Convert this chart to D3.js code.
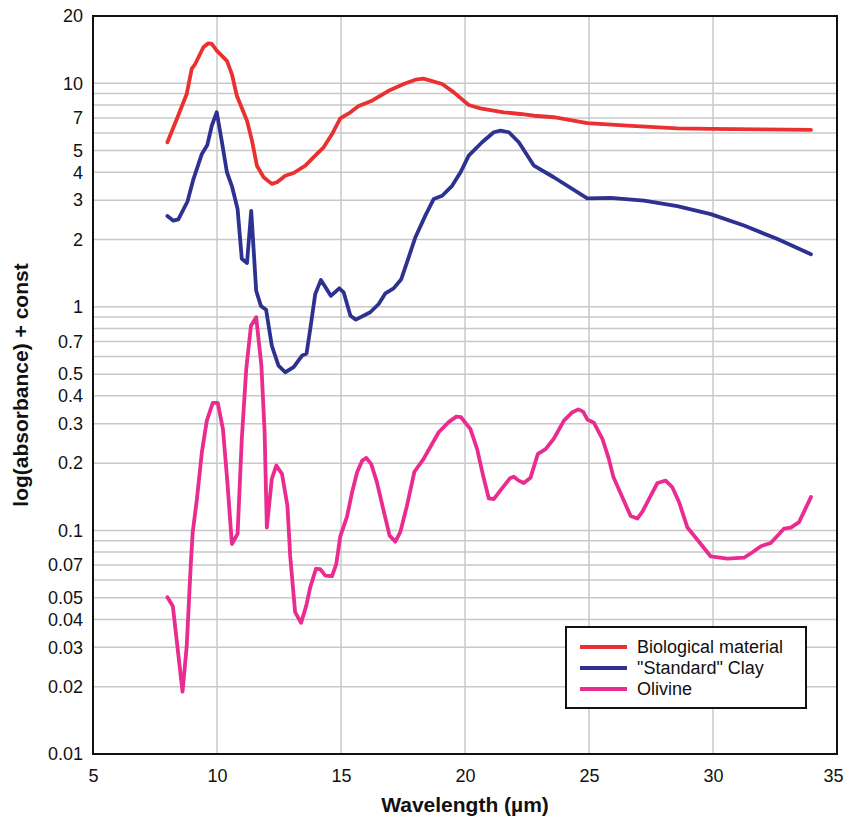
<!DOCTYPE html>
<html>
<head>
<meta charset="utf-8">
<script src="https://cdn.jsdelivr.net/npm/d3@7"></script>
<style>
	body { margin: 0; background: #fff; }
	text { font-family: "Liberation Sans", Arial, sans-serif; fill: #111; }
</style>
</head>
<body>
<div id="chart"></div>
<script>

// Wavelength (um) and log(absorbance) + const
var bioWave = [8.0, 8.38, 8.78, 8.98, 9.12, 9.45, 9.65, 9.79, 9.99, 10.40, 10.60, 10.80, 11.21, 11.41, 11.61, 11.88, 12.21, 12.42, 12.75, 13.09, 13.56, 13.96, 14.30, 14.64, 14.97, 15.38, 15.71, 16.25, 16.92, 17.53, 18.0, 18.33, 19.08, 19.55, 20.15, 20.62, 21.56, 22.23, 22.78, 23.58, 24.93, 26.55, 28.56, 29.91, 31.93, 33.95];
var bioValues = [5.45, 6.92, 8.96, 11.6, 12.2, 14.5, 15.1, 15.0, 14.0, 12.6, 11.0, 8.8, 6.8, 5.54, 4.28, 3.80, 3.55, 3.61, 3.86, 3.97, 4.28, 4.75, 5.17, 5.93, 6.97, 7.42, 7.92, 8.36, 9.26, 9.93, 10.38, 10.5, 9.93, 9.11, 8.0, 7.73, 7.42, 7.29, 7.16, 7.05, 6.64, 6.46, 6.29, 6.25, 6.22, 6.19];

var clayWave = [8.0, 8.24, 8.44, 8.81, 9.05, 9.39, 9.61, 9.79, 9.99, 10.20, 10.40, 10.60, 10.83, 11.00, 11.21, 11.38, 11.58, 11.77, 11.98, 12.21, 12.48, 12.75, 13.09, 13.43, 13.61, 13.76, 13.96, 14.19, 14.59, 14.93, 15.11, 15.38, 15.60, 16.18, 16.52, 16.79, 17.12, 17.43, 17.66, 18.0, 18.40, 18.74, 19.08, 19.48, 19.82, 20.15, 20.69, 21.16, 21.43, 21.77, 22.17, 22.78, 23.58, 24.93, 25.87, 27.22, 28.56, 29.91, 31.25, 32.60, 33.95];
var clayValues = [2.55, 2.43, 2.46, 2.96, 3.73, 4.83, 5.30, 6.46, 7.42, 5.45, 4.0, 3.47, 2.74, 1.64, 1.57, 2.69, 1.18, 1.01, 0.97, 0.67, 0.546, 0.51, 0.537, 0.605, 0.619, 0.796, 1.14, 1.32, 1.12, 1.21, 1.16, 0.913, 0.877, 0.946, 1.03, 1.15, 1.21, 1.33, 1.58, 2.05, 2.56, 3.04, 3.14, 3.48, 4.0, 4.75, 5.45, 6.04, 6.14, 6.04, 5.45, 4.28, 3.80, 3.06, 3.07, 2.99, 2.82, 2.60, 2.31, 2.01, 1.72];

var olivineWave = [8.0, 8.22, 8.61, 8.78, 8.94, 9.02, 9.19, 9.39, 9.59, 9.83, 10.03, 10.24, 10.42, 10.60, 10.83, 11.00, 11.18, 11.37, 11.58, 11.79, 11.92, 12.01, 12.21, 12.39, 12.62, 12.84, 12.95, 13.15, 13.39, 13.60, 13.76, 13.99, 14.16, 14.37, 14.64, 14.81, 14.97, 15.24, 15.44, 15.65, 15.85, 16.02, 16.22, 16.45, 16.70, 16.96, 17.19, 17.39, 17.66, 17.96, 18.33, 18.94, 19.34, 19.65, 19.84, 20.22, 20.49, 20.73, 20.96, 21.16, 21.43, 21.81, 21.97, 22.17, 22.37, 22.64, 22.94, 23.25, 23.58, 23.99, 24.33, 24.57, 24.76, 24.94, 25.20, 25.54, 25.80, 25.98, 26.34, 26.68, 26.95, 27.15, 27.49, 27.76, 28.09, 28.36, 28.63, 28.97, 29.37, 29.91, 30.58, 31.25, 31.59, 31.93, 32.33, 32.87, 33.14, 33.47, 33.95];
var olivineValues = [0.0503, 0.0458, 0.019, 0.0305, 0.0696, 0.0982, 0.138, 0.224, 0.310, 0.372, 0.372, 0.284, 0.164, 0.087, 0.0965, 0.257, 0.528, 0.824, 0.899, 0.546, 0.275, 0.103, 0.170, 0.195, 0.179, 0.129, 0.0771, 0.0431, 0.0386, 0.0461, 0.0557, 0.0673, 0.0671, 0.0628, 0.0624, 0.0708, 0.094, 0.115, 0.147, 0.182, 0.205, 0.211, 0.198, 0.164, 0.125, 0.0948, 0.0891, 0.0982, 0.129, 0.183, 0.209, 0.275, 0.305, 0.323, 0.321, 0.284, 0.231, 0.176, 0.139, 0.138, 0.151, 0.171, 0.174, 0.167, 0.163, 0.172, 0.220, 0.231, 0.257, 0.310, 0.338, 0.348, 0.340, 0.313, 0.303, 0.257, 0.209, 0.174, 0.141, 0.116, 0.113, 0.121, 0.143, 0.163, 0.167, 0.156, 0.134, 0.103, 0.0909, 0.0765, 0.0748, 0.0755, 0.0799, 0.085, 0.0879, 0.102, 0.103, 0.109, 0.141];

var seriesNames = ["Biological material", "\"Standard\" Clay", "Olivine"];
var seriesColors = ["#ea3030", "#2d3290", "#ea2b8f"];

var xTicks = [5, 10, 15, 20, 25, 30, 35];
var yTickLabels = [0.01, 0.02, 0.03, 0.04, 0.05, 0.07, 0.1, 0.2, 0.3, 0.4, 0.5, 0.7, 1, 2, 3, 4, 5, 7, 10, 20];

var width = 845,
	height = 820;

var margin = { top: 16, left: 93, bottom: 66, right: 8 };

var plotWidth = width - margin.left - margin.right,
	plotHeight = height - margin.top - margin.bottom;

// Pair up wavelengths with values
function pairUp(waves, values) {
	return waves.map(function(w, i) { return { w: w, v: values[i] }; });
}

var series = [
	pairUp(bioWave, bioValues),
	pairUp(clayWave, clayValues),
	pairUp(olivineWave, olivineValues)
];

var svg = d3.select("#chart").append("svg")
	.attr("width", width)
	.attr("height", height);

var g = svg.append("g")
	.attr("transform", "translate(" + margin.left + "," + margin.top + ")");

// Scales
var xScale = d3.scaleLinear()
	.domain([5, 35])
	.range([0, plotWidth]);

var yScale = d3.scaleLog()
	.domain([0.01, 20])
	.range([plotHeight, 0]);

// Grid lines: every 1..9 step of each decade
var gridValues = yScale.ticks().filter(function(d) { return d < 20; });

g.append("g")
	.attr("class", "grid y")
	.selectAll("line")
	.data(gridValues)
	.enter().append("line")
	.attr("x1", 0)
	.attr("x2", plotWidth)
	.attr("y1", function(d) { return yScale(d); })
	.attr("y2", function(d) { return yScale(d); })
	.style("stroke", "#c8c8c8")
	.style("stroke-width", 1.5);

g.append("g")
	.attr("class", "grid x")
	.selectAll("line")
	.data(xTicks.slice(1, -1))
	.enter().append("line")
	.attr("x1", function(d) { return xScale(d); })
	.attr("x2", function(d) { return xScale(d); })
	.attr("y1", 0)
	.attr("y2", plotHeight)
	.style("stroke", "#c8c8c8")
	.style("stroke-width", 1.5);

// Axes, labels only
var xAxis = d3.axisBottom(xScale)
	.tickValues(xTicks)
	.tickSize(0)
	.tickPadding(15);

var yAxis = d3.axisLeft(yScale)
	.tickValues(yTickLabels)
	.tickFormat(function(d) { return String(d); })
	.tickSize(0)
	.tickPadding(10);

g.append("g")
	.attr("class", "axis x")
	.attr("transform", "translate(0," + plotHeight + ")")
	.call(xAxis)
	.call(function(a) { a.select(".domain").remove(); })
	.selectAll("text")
	.style("font-size", "18px")
	.style("fill", "#111")
	// last label sits against the page edge
	.attr("dx", function(d) { return d === 35 ? "-4" : null; });

g.append("g")
	.attr("class", "axis y")
	.call(yAxis)
	.call(function(a) { a.select(".domain").remove(); })
	.selectAll("text")
	.style("font-size", "18px")
	.style("fill", "#111");

// Draw the lines
var line = d3.line()
	.x(function(d) { return xScale(d.w); })
	.y(function(d) { return yScale(d.v); });

g.selectAll(".series")
	.data(series)
	.enter().append("path")
	.attr("class", "series")
	.attr("d", line)
	.style("fill", "none")
	.style("stroke", function(d, i) { return seriesColors[i]; })
	.style("stroke-width", 3.8)
	.style("stroke-linejoin", "round")
	.style("stroke-linecap", "round");

// Frame around the plot
g.append("rect")
	.attr("width", plotWidth)
	.attr("height", plotHeight)
	.style("fill", "none")
	.style("stroke", "#111")
	.style("stroke-width", 2);

// Axis titles
svg.append("text")
	.attr("x", margin.left + plotWidth / 2)
	.attr("y", 812)
	.style("text-anchor", "middle")
	.style("font-size", "21px")
	.style("font-weight", "bold")
	.text("Wavelength (\u00b5m)");

svg.append("text")
	.attr("transform", "translate(28," + (margin.top + plotHeight / 2) + ") rotate(-90)")
	.style("text-anchor", "middle")
	.style("font-size", "21px")
	.style("font-weight", "bold")
	.text("log(absorbance) + const");

// Legend
var legend = svg.append("g")
	.attr("transform", "translate(566,627)");

legend.append("rect")
	.attr("width", 240)
	.attr("height", 81)
	.style("fill", "#fff")
	.style("stroke", "#111")
	.style("stroke-width", 2);

var legendRows = legend.selectAll(".row")
	.data(seriesNames)
	.enter().append("g")
	.attr("class", "row")
	.attr("transform", function(d, i) { return "translate(0," + (20 + i * 21) + ")"; });

legendRows.append("line")
	.attr("x1", 14)
	.attr("x2", 61)
	.style("stroke", function(d, i) { return seriesColors[i]; })
	.style("stroke-width", 3.8);

legendRows.append("text")
	.attr("x", 71)
	.attr("dy", "0.35em")
	.style("font-size", "18px")
	.text(function(d) { return d; });

</script>
</body>
</html>
